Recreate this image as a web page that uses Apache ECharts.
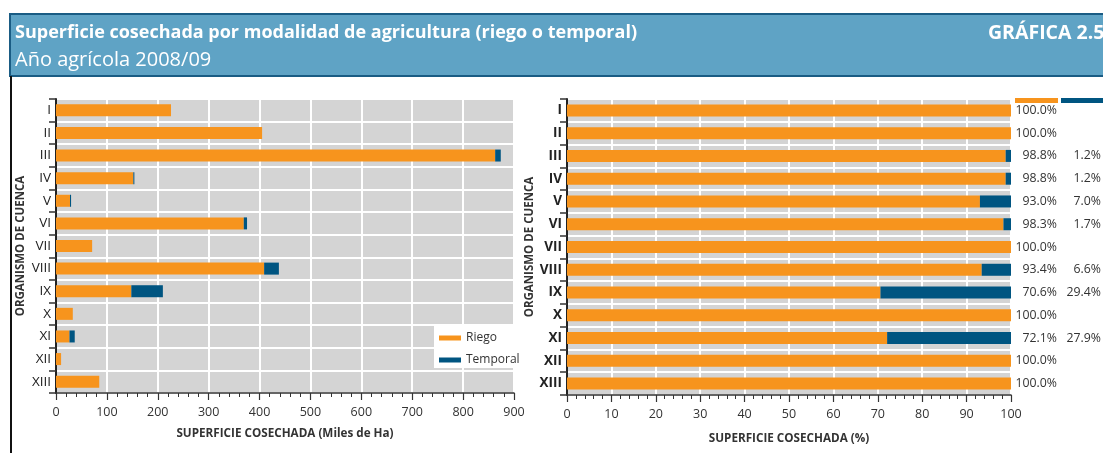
<!DOCTYPE html>
<html>
<head>
<meta charset="utf-8">
<script src="https://cdn.jsdelivr.net/npm/echarts@6/dist/echarts.min.js"></script>
<style>
html,body{margin:0;padding:0;background:#fff;}
#c{width:1103px;height:453px;}
</style>
</head>
<body>
<div id="c"></div>
<script>
const categories = ['I','II','III','IV','V','VI','VII','VIII','IX','X','XI','XII','XIII'];
// Miles de Ha
const riego    = [226, 405, 863, 152, 27.5, 369, 71, 409, 148, 33, 26.5, 10, 85];
const temporal = [0, 0, 11, 2, 2.1, 6.4, 0, 29, 62, 0, 10.3, 0, 0];
// Porcentajes
const riegoPct    = [100.0, 100.0, 98.8, 98.8, 93.0, 98.3, 100.0, 93.4, 70.6, 100.0, 72.1, 100.0, 100.0];
const temporalPct = [0, 0, 1.2, 1.2, 7.0, 1.7, 0, 6.6, 29.4, 0, 27.9, 0, 0];
const xTicksLeft = [0,100,200,300,400,500,600,700,800,900];
const xTicksRight = [0,10,20,30,40,50,60,70,80,90,100];

const ORANGE = '#f7941d', BLUE = '#005581', BG = '#d4d4d4', TXT = '#333';
const FONT = 'Open Sans';

function yAxisCfg(gridIndex, bold, nameGap) {
  return {
    type: 'category', gridIndex, data: categories, inverse: true,
    name: 'ORGANISMO DE CUENCA', nameLocation: 'middle', nameRotate: 90, nameGap,
    nameTextStyle: {fontFamily: FONT, fontWeight: 'bold', fontSize: 11.5, color: TXT},
    axisLine: {lineStyle: {color: '#222', width: 2}},
    axisTick: {show: true, length: 7, lineStyle: {color: '#333', width: 1.5}},
    axisLabel: {fontFamily: FONT, fontSize: 13.5, color: '#222', fontWeight: bold ? 'bold' : 'normal', margin: 5},
    splitLine: {show: true, lineStyle: {color: '#fff', width: 2}}
  };
}
function xAxisCfg(gridIndex, ticks, name, nameGap) {
  return {
    type: 'value', gridIndex, min: ticks[0], max: ticks[ticks.length-1], interval: ticks[1]-ticks[0],
    name, nameLocation: 'middle', nameGap,
    nameTextStyle: {fontFamily: FONT, fontWeight: 'bold', fontSize: 11.7, color: TXT},
    axisLine: {show: true, lineStyle: {color: '#333', width: 1.5}},
    axisTick: {show: true, length: 7, lineStyle: {color: '#333', width: 1.2}},
    minorTick: {show: true, splitNumber: 5, length: 4, lineStyle: {color: '#333', width: 1}},
    axisLabel: {fontFamily: FONT, fontSize: 12.5, color: TXT, margin: 13},
    splitLine: {show: true, lineStyle: {color: '#fff', width: 2}}
  };
}

const chart = echarts.init(document.getElementById('c'), null, {renderer: 'canvas'});
chart.setOption({
  animation: false,
  textStyle: {fontFamily: FONT},
  grid: [
    {left: 56, top: 99, width: 458, height: 294, show: true, backgroundColor: BG, borderWidth: 0},
    {left: 567, top: 99, width: 444, height: 296, show: true, backgroundColor: BG, borderWidth: 0}
  ],
  xAxis: [
    xAxisCfg(0, xTicksLeft, 'SUPERFICIE COSECHADA (Miles de Ha)', 35),
    xAxisCfg(1, xTicksRight, 'SUPERFICIE COSECHADA (%)', 38)
  ],
  yAxis: [yAxisCfg(0, false, 29), yAxisCfg(1, true, 31)],
  legend: {
    data: ['Riego', 'Temporal'], orient: 'vertical', left: 434, top: 325, width: 80,
    backgroundColor: '#fff', padding: [7, 6, 2, 5], itemGap: 10,
    itemWidth: 22, itemHeight: 5, icon: 'rect',
    textStyle: {fontFamily: FONT, fontSize: 12, color: TXT}, selectedMode: false
  },
  series: [
    {name: 'Riego', type: 'bar', stack: 'l', xAxisIndex: 0, yAxisIndex: 0, data: riego, barWidth: 12, itemStyle: {color: ORANGE}},
    {name: 'Temporal', type: 'bar', stack: 'l', xAxisIndex: 0, yAxisIndex: 0, data: temporal, barWidth: 12, itemStyle: {color: BLUE}},
    {name: 'Riego', type: 'bar', stack: 'r', xAxisIndex: 1, yAxisIndex: 1, data: riegoPct, barWidth: 12, itemStyle: {color: ORANGE}},
    {name: 'Temporal', type: 'bar', stack: 'r', xAxisIndex: 1, yAxisIndex: 1, data: temporalPct, barWidth: 12, itemStyle: {color: BLUE},
      label: {
        show: true, position: 'right', distance: 0,
        formatter: p => '{a|' + riegoPct[p.dataIndex].toFixed(1) + '%}{b|' + (temporalPct[p.dataIndex] > 0 ? temporalPct[p.dataIndex].toFixed(1) + '%' : '') + '}',
        rich: {
          a: {width: 46, align: 'right', fontFamily: FONT, fontSize: 12.3, color: TXT},
          b: {width: 44, align: 'right', fontFamily: FONT, fontSize: 12.3, color: TXT}
        }
      }}
  ],
  graphic: [
    {type: 'rect', shape: {x: 10, y: 14, width: 1100, height: 62}, style: {fill: '#5fa3c5', stroke: '#1a5c84', lineWidth: 2}, z: 1},
    {type: 'text', x: 15, y: 33, style: {text: 'Superficie cosechada por modalidad de agricultura (riego o temporal)', fill: '#fff', font: 'bold 18px "Open Sans"', verticalAlign: 'middle'}, z: 2},
    {type: 'text', x: 15, y: 60, style: {text: 'Año agrícola 2008/09', fill: '#fff', font: '20px "Open Sans"', verticalAlign: 'middle'}, z: 2},
    {type: 'text', x: 988, y: 33, style: {text: 'GRÁFICA 2.5', fill: '#fff', font: 'bold 19.5px "Open Sans"', verticalAlign: 'middle'}, z: 2},
    {type: 'line', shape: {x1: 11, y1: 76, x2: 11, y2: 453}, style: {stroke: '#111', lineWidth: 2}, z: 1},
    {type: 'rect', shape: {x: 1015, y: 98, width: 43, height: 5}, style: {fill: ORANGE}},
    {type: 'rect', shape: {x: 1061, y: 98, width: 42, height: 5}, style: {fill: BLUE}}
  ]
});
</script>
</body>
</html>
